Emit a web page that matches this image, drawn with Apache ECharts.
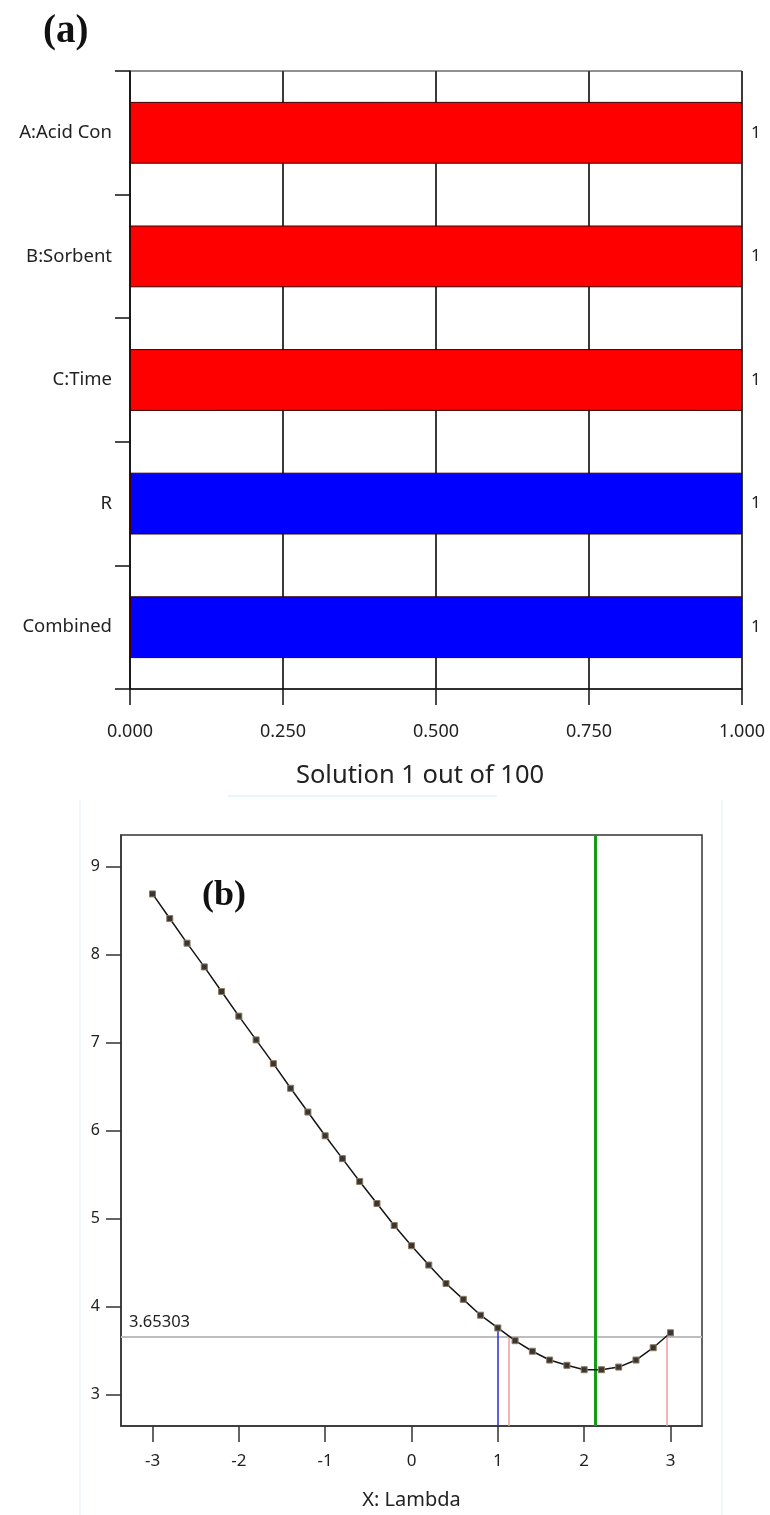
<!DOCTYPE html>
<html>
<head>
<meta charset="utf-8">
<script src="https://cdn.jsdelivr.net/npm/echarts@6/dist/echarts.min.js"></script>
<style>
html,body{margin:0;padding:0;background:#fff;}
#chart{width:770px;height:1515px;}
</style>
</head>
<body>
<div id="chart"></div>
<script>
// ---- Panel (a): desirability ----
const desirCategories = ['A:Acid Con', 'B:Sorbent', 'C:Time', 'R', 'Combined'];
const desirValues = [1, 1, 1, 1, 1];
const desirColors = ['#ff0000', '#ff0000', '#ff0000', '#0000ff', '#0000ff'];
const desirTicks = [0, 0.25, 0.5, 0.75, 1];

// ---- Panel (b): Box-Cox plot ----
const lambdaValues = [-3, -2.8, -2.6, -2.4, -2.2, -2, -1.8, -1.6, -1.4, -1.2, -1, -0.8, -0.6, -0.4, -0.2,
  0, 0.2, 0.4, 0.6, 0.8, 1, 1.2, 1.4, 1.6, 1.8, 2, 2.2, 2.4, 2.6, 2.8, 3];
const lnResidualSS = [8.69, 8.41, 8.13, 7.86, 7.58, 7.30, 7.03, 6.76, 6.48, 6.21, 5.94, 5.68, 5.42, 5.17, 4.92,
  4.69, 4.47, 4.26, 4.08, 3.90, 3.755, 3.61, 3.49, 3.39, 3.33, 3.28, 3.28, 3.31, 3.39, 3.53, 3.70];
const lambdaTicks = [-3, -2, -1, 0, 1, 2, 3];
const lnTicks = [3, 4, 5, 6, 7, 8, 9];
const ciLevel = 3.65303;
const bestLambda = 2.13;
const currentLambda = 1;
const currentLn = 3.755;
const ciLambda = [1.13, 2.96];

const FONT = 'Noto Sans';
const xMinB = -3.365, xMaxB = 3.365, yMinB = 2.64, yMaxB = 9.36;

const chart = echarts.init(document.getElementById('chart'), null, {renderer: 'canvas'});

const option = {
  backgroundColor: '#ffffff',
  animation: false,
  textStyle: {fontFamily: FONT},
  grid: [
    {left: 130, top: 71, width: 612, height: 618, show: true, borderColor: '#222', borderWidth: 1, containLabel: false},
    {left: 121, top: 835, width: 581, height: 591, show: true, borderColor: '#333', borderWidth: 1.5, containLabel: false}
  ],
  xAxis: [
    {
      gridIndex: 0, type: 'value', min: 0, max: 1, interval: 0.25,
      name: 'Solution 1 out of 100', nameLocation: 'middle', nameGap: 74,
      nameTextStyle: {fontSize: 25.5, color: '#222', fontFamily: FONT, padding: [0, 32, 0, 0]},
      axisLine: {show: true, lineStyle: {color: '#111', width: 1.5}},
      axisTick: {show: true, length: 16, lineStyle: {color: '#111', width: 1.5}},
      axisLabel: {margin: 34, fontSize: 18, color: '#222', fontFamily: FONT,
        formatter: v => v.toFixed(3)},
      splitLine: {show: true, lineStyle: {color: '#3a3a3a', width: 2}}
    },
    {
      gridIndex: 1, type: 'value', min: xMinB, max: xMaxB,
      name: 'X: Lambda', nameLocation: 'middle', nameGap: 64,
      nameTextStyle: {fontSize: 20, color: '#222', fontFamily: FONT},
      axisLine: {show: true, onZero: false, lineStyle: {color: '#333', width: 1.5}},
      axisTick: {show: true, length: 16, customValues: lambdaTicks, lineStyle: {color: '#333', width: 1.5}},
      axisLabel: {margin: 27, fontSize: 17, color: '#222', fontFamily: FONT, customValues: lambdaTicks,
        formatter: v => String(v)},
      splitLine: {show: false}
    }
  ],
  yAxis: [
    {
      gridIndex: 0, type: 'category', data: desirCategories, inverse: true,
      axisLine: {show: true, lineStyle: {color: '#111', width: 1.5}},
      axisTick: {show: true, length: 15, alignWithLabel: false, lineStyle: {color: '#111', width: 1.5}},
      axisLabel: {margin: 18, fontSize: 18.5, color: '#222', fontFamily: FONT},
      splitLine: {show: false}
    },
    {
      gridIndex: 1, type: 'value', min: yMinB, max: yMaxB,
      axisLine: {show: true, onZero: false, lineStyle: {color: '#333', width: 1.5}},
      axisTick: {show: true, length: 15, customValues: lnTicks, lineStyle: {color: '#333', width: 1.5}},
      axisLabel: {margin: 21, fontSize: 16, color: '#222', fontFamily: FONT, customValues: lnTicks,
        formatter: v => String(v)},
      splitLine: {show: false}
    }
  ],
  series: [
    {
      type: 'bar', xAxisIndex: 0, yAxisIndex: 0, barWidth: '50%',
      data: desirValues.map((v, i) => ({value: v, itemStyle: {color: desirColors[i]}})),
      itemStyle: {borderColor: '#3a0000', borderWidth: 1},
      label: {show: true, position: 'right', distance: 9, fontSize: 17, color: '#222', fontFamily: FONT,
        formatter: p => String(p.value)},
      z: 3
    },
    {
      type: 'line', xAxisIndex: 1, yAxisIndex: 1,
      data: lambdaValues.map((x, i) => [x, lnResidualSS[i]]),
      symbol: 'rect', symbolSize: 6, showAllSymbol: true,
      lineStyle: {color: '#151515', width: 1.5},
      itemStyle: {color: '#3a3530', borderColor: '#8a7a62', borderWidth: 1},
      z: 5,
      markLine: {
        silent: true, symbol: 'none', animation: false,
        data: [
          [{coord: [xMinB, ciLevel], lineStyle: {color: '#bdbdbd', width: 2, type: 'solid'},
            label: {show: true, position: 'insideStartTop', formatter: String(ciLevel), fontSize: 16.5,
              color: '#222', fontFamily: FONT, distance: [8, 6]}},
           {coord: [xMaxB, ciLevel]}],
          [{coord: [bestLambda, yMaxB], lineStyle: {color: '#179a17', width: 3, type: 'solid'}, label: {show: false}},
           {coord: [bestLambda, yMinB]}],
          [{coord: [currentLambda, currentLn], lineStyle: {color: '#2a2ad8', width: 1.5, type: 'solid'}, label: {show: false}},
           {coord: [currentLambda, yMinB]}],
          [{coord: [ciLambda[0], ciLevel], lineStyle: {color: '#f29a9a', width: 1.5, type: 'solid'}, label: {show: false}},
           {coord: [ciLambda[0], yMinB]}],
          [{coord: [ciLambda[1], ciLevel], lineStyle: {color: '#f29a9a', width: 1.5, type: 'solid'}, label: {show: false}},
           {coord: [ciLambda[1], yMinB]}]
        ]
      }
    }
  ],
  graphic: [
    {type: 'text', left: 43, top: 12, style: {text: '(a)', font: 'bold 39px "Liberation Serif"', fill: '#111'}},
    {type: 'text', left: 202, top: 878, style: {text: '(b)', font: 'bold 36px "Liberation Serif"', fill: '#111'}},
    {type: 'line', shape: {x1: 228, y1: 796, x2: 497, y2: 796}, style: {stroke: '#e6f7fa', lineWidth: 2}},
    {type: 'line', shape: {x1: 80, y1: 800, x2: 80, y2: 1515}, style: {stroke: '#f0f7f8', lineWidth: 2}},
    {type: 'line', shape: {x1: 722, y1: 800, x2: 722, y2: 1515}, style: {stroke: '#f0f7f8', lineWidth: 2}}
  ]
};

chart.setOption(option);
</script>
</body>
</html>
